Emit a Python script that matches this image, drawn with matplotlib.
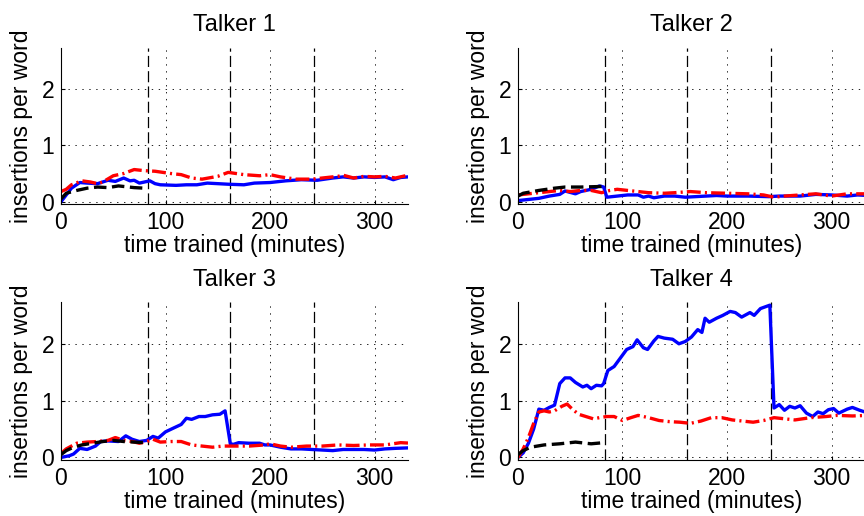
import numpy as np
import matplotlib
matplotlib.use('Agg')
import matplotlib.pyplot as plt

plt.rcParams['font.family'] = ['Liberation Sans', 'DejaVu Sans']
plt.rcParams['font.size'] = 16.5
plt.rcParams['lines.scale_dashes'] = False

# boundaries between training stages (minutes)
stage_marks = [83, 162, 242]

# Talker 1
t1_blue_t = [0, 5, 10, 18, 25, 35, 45, 52, 60, 66, 70, 75, 80, 85, 90, 95, 110, 120, 130, 140, 150, 160,
             175, 185, 200, 215, 230, 245, 260, 270, 280, 290, 300, 310, 318, 325, 332]
t1_blue_v = [0.0, 0.12, 0.24, 0.34, 0.33, 0.32, 0.38, 0.36, 0.42, 0.37, 0.38, 0.33, 0.35, 0.37, 0.32, 0.30, 0.29, 0.30, 0.30, 0.33, 0.32, 0.31,
             0.30, 0.33, 0.34, 0.37, 0.39, 0.38, 0.42, 0.44, 0.42, 0.44, 0.43, 0.44, 0.39, 0.43, 0.44]
t1_red_t = [0, 5, 10, 20, 28, 35, 40, 50, 60, 70, 80, 90, 105, 115, 125, 135, 150, 160, 175, 190, 200, 210,
            225, 240, 250, 265, 270, 280, 290, 300, 310, 320, 332]
t1_red_v = [0.18, 0.22, 0.30, 0.37, 0.35, 0.32, 0.35, 0.46, 0.50, 0.57, 0.55, 0.54, 0.50, 0.48, 0.42, 0.40, 0.45, 0.52, 0.48, 0.46, 0.48, 0.44,
            0.40, 0.40, 0.42, 0.45, 0.47, 0.42, 0.45, 0.44, 0.45, 0.42, 0.47]
t1_black_t = [0, 5, 15, 25, 35, 45, 55, 70, 80]
t1_black_v = [0.05, 0.15, 0.20, 0.24, 0.26, 0.25, 0.28, 0.25, 0.24]

# Talker 2
t2_blue_t = [0, 10, 20, 30, 40, 45, 55, 60, 70, 78, 82, 85, 95, 105, 115, 120, 125, 130, 140, 150, 160, 170,
             180, 190, 200, 220, 240, 250, 270, 285, 300, 315, 325, 335]
t2_blue_v = [0.02, 0.04, 0.06, 0.10, 0.13, 0.19, 0.14, 0.18, 0.22, 0.28, 0.26, 0.08, 0.10, 0.12, 0.12, 0.08, 0.10, 0.07, 0.10, 0.10, 0.08, 0.09,
             0.10, 0.11, 0.10, 0.10, 0.09, 0.10, 0.10, 0.13, 0.12, 0.10, 0.12, 0.11]
t2_red_t = [0, 10, 20, 30, 40, 50, 60, 70, 80, 88, 95, 105, 115, 125, 140, 150, 165, 180, 200, 220, 235, 245,
            255, 270, 285, 300, 315, 335]
t2_red_v = [0.12, 0.14, 0.16, 0.18, 0.20, 0.18, 0.20, 0.20, 0.16, 0.20, 0.22, 0.20, 0.18, 0.16, 0.15, 0.16, 0.18, 0.16, 0.15, 0.14, 0.12, 0.08,
            0.10, 0.12, 0.14, 0.10, 0.14, 0.14]
t2_black_t = [0, 5, 20, 35, 45, 60, 80]
t2_black_v = [0.10, 0.15, 0.20, 0.24, 0.26, 0.26, 0.27]

# Talker 3
t3_blue_t = [0, 8, 12, 18, 25, 33, 38, 45, 55, 62, 68, 75, 82, 88, 93, 100, 108, 115, 120, 125, 132, 138,
             145, 152, 157, 162, 165, 170, 180, 190, 195, 200, 210, 220, 230, 240, 250, 260, 270, 280,
             290, 300, 310, 320, 335]
t3_blue_v = [0.0, 0.03, 0.06, 0.16, 0.14, 0.20, 0.28, 0.29, 0.28, 0.38, 0.32, 0.28, 0.30, 0.37, 0.34, 0.45, 0.52, 0.58, 0.69, 0.67, 0.72, 0.72,
             0.75, 0.76, 0.82, 0.24, 0.23, 0.26, 0.25, 0.25, 0.22, 0.22, 0.18, 0.15, 0.15, 0.14, 0.13, 0.12, 0.14, 0.14,
             0.14, 0.13, 0.15, 0.16, 0.17]
t3_red_t = [0, 5, 10, 15, 25, 35, 45, 52, 60, 68, 75, 82, 88, 95, 105, 115, 125, 135, 145, 155, 165, 180,
            195, 200, 210, 220, 235, 250, 265, 280, 295, 310, 325, 335]
t3_red_v = [0.07, 0.15, 0.20, 0.25, 0.27, 0.28, 0.30, 0.35, 0.30, 0.28, 0.25, 0.28, 0.32, 0.27, 0.28, 0.28, 0.22, 0.20, 0.18, 0.20, 0.20, 0.20,
            0.22, 0.24, 0.20, 0.18, 0.20, 0.20, 0.22, 0.21, 0.22, 0.22, 0.26, 0.25]
t3_black_t = [0, 5, 12, 20, 30, 40, 50, 60, 70, 80]
t3_black_v = [0.05, 0.12, 0.18, 0.22, 0.25, 0.28, 0.30, 0.28, 0.27, 0.26]

# Talker 4
t4_blue_t = [0, 5, 10, 15, 20, 25, 30, 35, 40, 45, 50, 55, 62, 66, 70, 75, 80, 82, 86, 92, 98, 104,
             110, 114, 120, 124, 130, 134, 140, 148, 154, 160, 166, 172, 176, 179, 183, 190, 196, 203,
             208, 214, 222, 226, 232, 241, 245, 250, 255, 260, 265, 270, 276, 282, 287, 292, 297, 302,
             307, 315, 320, 327, 332]
t4_blue_v = [0.0, 0.08, 0.25, 0.50, 0.85, 0.83, 0.88, 0.92, 1.30, 1.40, 1.40, 1.32, 1.24, 1.27, 1.21, 1.27, 1.26, 1.30, 1.53, 1.60, 1.75, 1.90,
             1.95, 2.07, 1.93, 1.90, 2.05, 2.13, 2.10, 2.08, 2.00, 2.04, 2.12, 2.25, 2.20, 2.45, 2.38, 2.45, 2.50, 2.57,
             2.55, 2.47, 2.55, 2.50, 2.62, 2.68, 0.87, 0.93, 0.83, 0.90, 0.87, 0.91, 0.78, 0.72, 0.80, 0.77, 0.84, 0.86,
             0.78, 0.85, 0.88, 0.83, 0.80]
t4_red_t = [0, 5, 10, 15, 20, 25, 30, 35, 42, 47, 52, 58, 65, 72, 78, 85, 92, 100, 108, 115, 125, 135,
            145, 155, 165, 175, 185, 195, 205, 215, 225, 235, 245, 255, 265, 280, 295, 305, 320, 335]
t4_red_v = [0.0, 0.15, 0.35, 0.60, 0.80, 0.82, 0.80, 0.82, 0.90, 0.94, 0.85, 0.76, 0.72, 0.68, 0.70, 0.72, 0.72, 0.65, 0.70, 0.74, 0.70, 0.65,
            0.63, 0.62, 0.60, 0.64, 0.70, 0.70, 0.66, 0.64, 0.62, 0.65, 0.70, 0.68, 0.66, 0.70, 0.72, 0.74, 0.73, 0.74]
t4_black_t = [0, 5, 12, 25, 40, 55, 70, 82]
t4_black_v = [0.05, 0.12, 0.18, 0.22, 0.24, 0.27, 0.24, 0.26]

talkers = ['Talker 1', 'Talker 2', 'Talker 3', 'Talker 4']
series = [
    (t1_blue_t, t1_blue_v, t1_red_t, t1_red_v, t1_black_t, t1_black_v),
    (t2_blue_t, t2_blue_v, t2_red_t, t2_red_v, t2_black_t, t2_black_v),
    (t3_blue_t, t3_blue_v, t3_red_t, t3_red_v, t3_black_t, t3_black_v),
    (t4_blue_t, t4_blue_v, t4_red_t, t4_red_v, t4_black_t, t4_black_v),
]

fig = plt.figure(figsize=(8.64, 5.16), dpi=100)
positions = [
    [0.0706, 0.6047, 0.4016, 0.3029],
    [0.5995, 0.6047, 0.4016, 0.3029],
    [0.0706, 0.1091, 0.4016, 0.3050],
    [0.5995, 0.1091, 0.4016, 0.3050],
]

for pos, name, (bt, bv, rt, rv, kt, kv) in zip(positions, talkers, series):
    ax = fig.add_axes(pos)
    ax.set_xlim(0, 332)
    ax.set_ylim(-0.04, 2.73)
    ax.set_xticks([0, 100, 200, 300])
    ax.set_yticks([0, 1, 2])
    ax.grid(True, color='black', linestyle=(0, (1, 4)), linewidth=0.6)
    for m in stage_marks:
        ax.axvline(m, color='black', linestyle=(0, (8, 3)), linewidth=0.9)
    ax.plot(bt, bv, color='blue', linewidth=2.4, solid_joinstyle='round')
    ax.plot(rt, rv, color='red', linewidth=2.4, linestyle=(0, (10, 3, 1.5, 3)))
    ax.plot(kt, kv, color='black', linewidth=2.4, linestyle=(0, (9, 4)))
    ax.spines['top'].set_visible(False)
    ax.spines['right'].set_visible(False)
    ax.tick_params(direction='in', length=3, width=0.8, pad=5)
    ax.set_title(name, fontsize=17, pad=12)
    ax.set_xlabel('time trained (minutes)', labelpad=0)
    ax.set_ylabel('insertions per word', labelpad=6)

plt.savefig('out.png', dpi=100)
